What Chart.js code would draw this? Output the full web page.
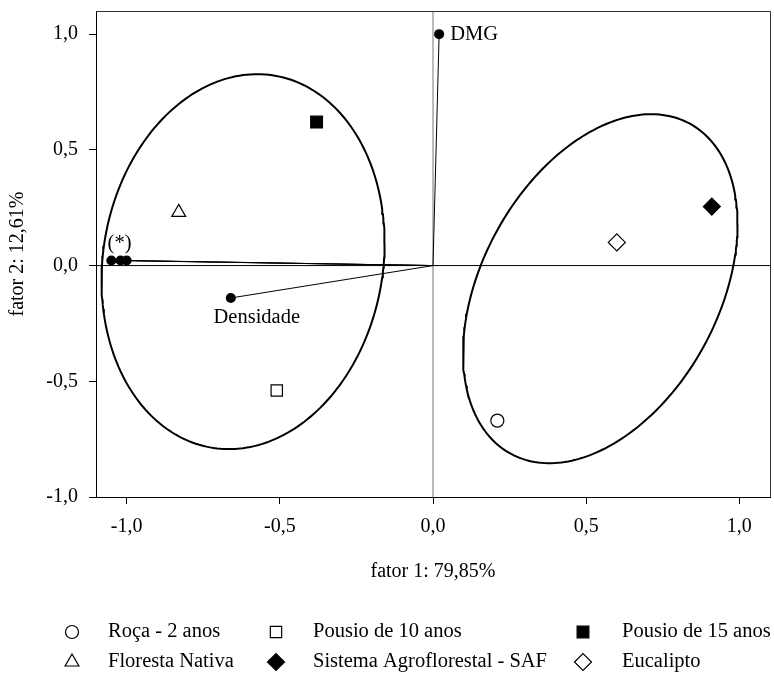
<!DOCTYPE html>
<html lang="pt">
<head>
<meta charset="utf-8">
<title>Análise fatorial</title>
<script src="https://cdn.jsdelivr.net/npm/chart.js@4.4.1/dist/chart.umd.min.js"></script>
<style>
  html, body { margin: 0; padding: 0; background: #fff; }
  canvas { display: block; }
</style>
</head>
<body>
<canvas id="grafico" width="774" height="680"></canvas>
<script>
// Tratamentos (escores nos fatores 1 e 2)
const tratamentos = ['Roça - 2 anos', 'Pousio de 10 anos', 'Pousio de 15 anos',
                     'Floresta Nativa', 'Sistema Agroflorestal - SAF', 'Eucalipto'];
const fator1Trat = [0.21, -0.51, -0.38, -0.83, 0.91, 0.60];
const fator2Trat = [-0.67, -0.54, 0.62, 0.23, 0.255, 0.10];

// Variáveis (cargas) - o grupo (*) tem três pontos quase sobrepostos
const variaveis = ['DMG', 'Densidade', '', '(*)', ''];
const fator1Var = [0.02, -0.66, -1.05, -1.02, -1.0];
const fator2Var = [1.0, -0.14, 0.022, 0.022, 0.022];

// Elipses de agrupamento: centro, semi-eixos e defasagem (inclinação)
const elipseCentroX = [-0.62, 0.546];
const elipseCentroY = [0.017, -0.10];
const elipseSemiX = [0.462, 0.448];
const elipseSemiY = [0.81, 0.754];
const elipseDefasagem = [0.10, 0.38];

// Eixos
const ticksFator1 = [-1.0, -0.5, 0.0, 0.5, 1.0];
const ticksFator2 = [-1.0, -0.5, 0.0, 0.5, 1.0];
const limitesFator1 = [-1.1, 1.1];
const limitesFator2 = [-1.0, 1.1];

// Estilos dos marcadores dos tratamentos
const formas = ['circle', 'rect', 'rect', 'triangle', 'rectRot', 'rectRot'];
const preenchimentos = ['#fff', '#fff', '#000', '#fff', '#000', '#fff'];
const raios = [6.5, 8, 8.3, 8, 8.5, 8.5];

const FAMILIA = "'Liberation Serif', 'Times New Roman', serif";
const fonte = tam => ({ family: FAMILIA, size: tam });
const formatar = v => Number(v).toFixed(1).replace('.', ',');

function pontosElipse(i) {
    const pts = [];
    for (let k = 0; k <= 240; k++) {
        const t = k / 240 * 2 * Math.PI;
        pts.push({
            x: elipseCentroX[i] + elipseSemiX[i] * Math.cos(t),
            y: elipseCentroY[i] + elipseSemiY[i] * Math.sin(t + elipseDefasagem[i])
        });
    }
    return pts;
}

const datasets = [];

// marcadores dos tratamentos (ficam por cima)
tratamentos.forEach((nome, i) => {
    datasets.push({
        label: nome,
        data: [{ x: fator1Trat[i], y: fator2Trat[i] }],
        pointStyle: formas[i],
        pointRadius: raios[i],
        pointBackgroundColor: preenchimentos[i],
        pointBorderColor: '#000',
        pointBorderWidth: 1.2
    });
});

// pontos das variáveis
datasets.push({
    label: 'variaveis',
    data: fator1Var.map((x, i) => ({ x: x, y: fator2Var[i] })),
    pointRadius: 5,
    pointBackgroundColor: '#000',
    pointBorderColor: '#000',
    pointBorderWidth: 0
});

// vetores a partir da origem
fator1Var.forEach((x, i) => {
    datasets.push({
        label: 'vetor',
        data: [{ x: 0, y: 0 }, { x: x, y: fator2Var[i] }],
        showLine: true,
        borderColor: '#000',
        borderWidth: 1,
        pointRadius: 0
    });
});

// elipses
elipseCentroX.forEach((c, i) => {
    datasets.push({
        label: 'elipse',
        data: pontosElipse(i),
        showLine: true,
        borderColor: '#000',
        borderWidth: 2,
        pointRadius: 0,
        tension: 0
    });
});

// linhas do zero
datasets.push({
    label: 'zeroX',
    data: [{ x: limitesFator1[0], y: 0 }, { x: limitesFator1[1], y: 0 }],
    showLine: true, borderColor: '#000', borderWidth: 1, pointRadius: 0
});
datasets.push({
    label: 'zeroY',
    data: [{ x: 0, y: limitesFator2[0] }, { x: 0, y: limitesFator2[1] }],
    showLine: true, borderColor: '#777', borderWidth: 1, pointRadius: 0
});

// posição dos rótulos em relação ao ponto (px)
const deslocRotulo = {
    'DMG': [11, 0, 'left'],
    'Densidade': [26, 20, 'center'],
    '(*)': [-1, -17, 'center']
};

// grade da legenda: 3 colunas x 2 linhas
const legendaSimboloX = [72, 276, 583];
const legendaTextoX = [108, 313, 622];
const legendaLinhaY = [632, 662];

function desenharMarcador(ctx, i, x, y) {
    ctx.save();
    ctx.fillStyle = preenchimentos[i];
    ctx.strokeStyle = '#000';
    ctx.lineWidth = 1.2;
    const opts = { pointStyle: formas[i], radius: raios[i], borderWidth: 1.2, rotation: 0 };
    if (Chart.helpers && Chart.helpers.drawPoint) {
        Chart.helpers.drawPoint(ctx, opts, x, y);
    } else {
        ctx.beginPath();
        ctx.arc(x, y, raios[i], 0, 2 * Math.PI);
        ctx.fill();
        ctx.stroke();
    }
    ctx.restore();
}

const pluginExtras = {
    id: 'extras',
    afterDatasetsDraw(chart) {
        const { ctx, chartArea, scales } = chart;
        // moldura superior e direita
        ctx.save();
        ctx.strokeStyle = '#333';
        ctx.lineWidth = 1;
        ctx.beginPath();
        ctx.moveTo(Math.round(chartArea.left), Math.round(chartArea.top) + 0.5);
        ctx.lineTo(Math.round(chartArea.right) + 0.5, Math.round(chartArea.top) + 0.5);
        ctx.lineTo(Math.round(chartArea.right) + 0.5, Math.round(chartArea.bottom));
        ctx.stroke();
        ctx.restore();

        // rótulos das variáveis
        ctx.save();
        ctx.font = '20.5px ' + FAMILIA;
        ctx.fillStyle = '#000';
        ctx.textBaseline = 'middle';
        variaveis.forEach((nome, i) => {
            if (!nome) return;
            const d = deslocRotulo[nome];
            const px = scales.x.getPixelForValue(fator1Var[i]);
            const py = scales.y.getPixelForValue(fator2Var[i]);
            ctx.textAlign = d[2];
            ctx.fillText(nome, px + d[0], py + d[1]);
        });
        ctx.restore();
    },
    afterDraw(chart) {
        const ctx = chart.ctx;
        ctx.save();
        ctx.font = '20.5px ' + FAMILIA;
        ctx.fillStyle = '#000';
        ctx.textBaseline = 'middle';
        ctx.textAlign = 'left';
        tratamentos.forEach((nome, i) => {
            const col = i % 3;
            const lin = Math.floor(i / 3);
            desenharMarcador(ctx, i, legendaSimboloX[col], legendaLinhaY[lin]);
            ctx.fillStyle = '#000';
            ctx.fillText(nome, legendaTextoX[col], legendaLinhaY[lin]);
        });
        ctx.restore();
    }
};

const ctx = document.getElementById('grafico').getContext('2d');
window.grafico = new Chart(ctx, {
    type: 'scatter',
    data: { datasets: datasets },
    options: {
        responsive: false,
        animation: false,
        devicePixelRatio: 1,
        layout: { autoPadding: false, padding: { top: 11, right: 4, bottom: 94, left: 0 } },
        plugins: {
            legend: { display: false },
            tooltip: { enabled: false }
        },
        scales: {
            x: {
                type: 'linear',
                min: limitesFator1[0],
                max: limitesFator1[1],
                afterBuildTicks: s => { s.ticks = ticksFator1.map(v => ({ value: v })); },
                afterFit: s => { s.height = 89; s.paddingLeft = 0; s.paddingRight = 0; },
                ticks: { callback: formatar, font: fonte(20), color: '#000', padding: 11, maxRotation: 0, autoSkip: false },
                grid: { drawOnChartArea: false, drawTicks: true, tickLength: 7, color: '#000', lineWidth: 1 },
                border: { display: true, color: '#000', width: 1 },
                title: { display: true, text: 'fator 1: 79,85%', font: fonte(20), color: '#000', padding: { top: 0, bottom: 2 } }
            },
            y: {
                type: 'linear',
                min: limitesFator2[0],
                max: limitesFator2[1],
                afterBuildTicks: s => { s.ticks = ticksFator2.map(v => ({ value: v })); },
                afterFit: s => { s.width = 96; s.paddingTop = 0; s.paddingBottom = 0; },
                ticks: { callback: formatar, font: fonte(20), color: '#000', padding: 11, autoSkip: false },
                grid: { drawOnChartArea: false, drawTicks: true, tickLength: 7, color: '#000', lineWidth: 1 },
                border: { display: true, color: '#000', width: 1 },
                title: { display: true, text: 'fator 2: 12,61%', font: fonte(20), color: '#000', padding: { top: 6, bottom: 0 } }
            }
        }
    },
    plugins: [pluginExtras]
});
</script>
</body>
</html>
